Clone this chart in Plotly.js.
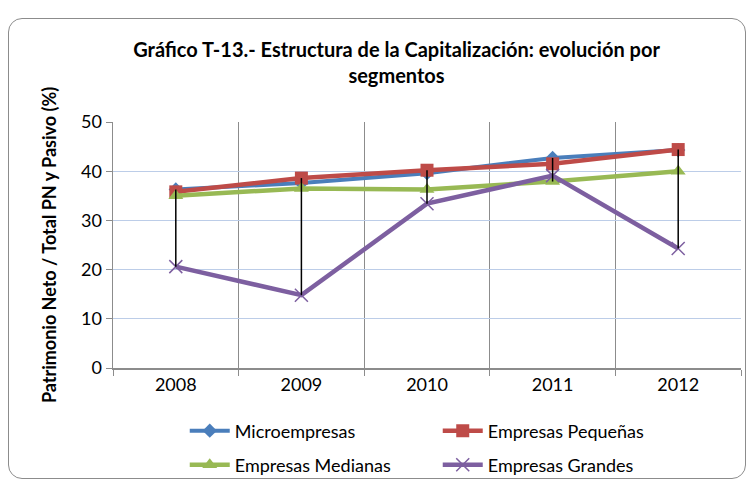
<!DOCTYPE html>
<html><head><meta charset="utf-8">
<script src="https://cdn.plot.ly/plotly-3.0.1.min.js"></script>
<style>
body{margin:0;padding:0;background:#fff;}
#wrap{position:relative;width:751px;height:484px;}
#chart{position:absolute;left:0;top:0;width:751px;height:484px;}
#frame{position:absolute;left:8px;top:18px;width:736px;height:459px;border:1px solid #8c8c8c;border-radius:14px;pointer-events:none;}
</style></head>
<body><div id="wrap"><div id="chart"></div><div id="frame"></div></div>
<script>
const years = ['2008','2009','2010','2011','2012'];
const micro = [36.3, 37.6, 39.6, 42.7, 44.3];
const pequenas = [35.8, 38.6, 40.2, 41.5, 44.4];
const medianas = [35.0, 36.5, 36.3, 37.9, 40.0];
const grandes = [20.6, 14.8, 33.4, 39.1, 24.3];
const yTicks = [0,10,20,30,40,50];

const all = [micro, pequenas, medianas, grandes];
const hlX = [], hlY = [];
years.forEach((y,i)=>{
  const vals = all.map(s=>s[i]);
  hlX.push(y,y,null);
  hlY.push(Math.max(...vals), Math.min(...vals), null);
});

const font = 'Lato, "Open Sans", sans-serif';
const traces = [
  {x:years,y:micro,name:'Microempresas',legend:'legend',mode:'lines+markers',line:{color:'#4A7EBB',width:4},marker:{symbol:'diamond',size:11,color:'#4A7EBB'}},
  {x:years,y:pequenas,name:'Empresas Pequeñas',legend:'legend',mode:'lines+markers',line:{color:'#BE4B48',width:4.5},marker:{symbol:'square',size:13,color:'#BE4B48'}},
  {x:years,y:medianas,name:'Empresas Medianas',legend:'legend2',mode:'lines+markers',line:{color:'#98B954',width:4.5},marker:{symbol:'triangle-up',size:13,color:'#98B954'}},
  {x:years,y:grandes,name:'Empresas Grandes',legend:'legend2',mode:'lines+markers',line:{color:'#7D5FA0',width:4.5},marker:{symbol:'x-thin-open',size:13,line:{color:'#7D5FA0',width:1.5}}},
  {x:hlX,y:hlY,mode:'lines',line:{color:'#000',width:1.5},showlegend:false,hoverinfo:'skip'}
];

const legBase = {orientation:'h',xref:'container',yref:'container',xanchor:'left',yanchor:'middle',
  entrywidth:198,entrywidthmode:'pixels',font:{family:font,size:18},itemwidth:40,bgcolor:'rgba(0,0,0,0)'};

const layout = {
  width:751,height:484,
  margin:{l:113,r:10,t:122,b:116},
  paper_bgcolor:'rgba(0,0,0,0)',plot_bgcolor:'#fff',
  font:{family:font,size:18,color:'#000'},
  title:{text:'<b>Gráfico T-13.- Estructura de la Capitalización: evolución por<br>segmentos</b>',
    font:{family:font,size:20,color:'#000'},x:0.528,xanchor:'center',y:0.883,yanchor:'top'},
  xaxis:{type:'category',range:[-0.5,4.5],tickson:'boundaries',showgrid:true,gridcolor:'#8c8c8c',gridwidth:1,
    showline:true,linecolor:'#8c8c8c',linewidth:1.5,ticks:'outside',ticklen:6,tickcolor:'#8c8c8c',
    tickfont:{family:font,size:18},zeroline:false,fixedrange:true},
  yaxis:{range:[0,50],tickvals:yTicks,ticktext:yTicks.map(String),showgrid:true,gridcolor:'#BCCDE8',gridwidth:1,
    showline:true,linecolor:'#8c8c8c',linewidth:1.5,ticks:'outside',ticklen:6,tickcolor:'#8c8c8c',
    tickfont:{family:font,size:18},zeroline:false,
    title:{text:'<b>Patrimonio Neto / Total PN y Pasivo (%)</b>',font:{family:font,size:18},standoff:19}},
  legend:Object.assign({},legBase,{x:0.246,y:(484-431)/484}),
  legend2:Object.assign({},legBase,{x:0.246,y:(484-465)/484}),
  showlegend:true
};
Plotly.newPlot('chart',traces,layout,{displayModeBar:false,staticPlot:true});
</script></body></html>
